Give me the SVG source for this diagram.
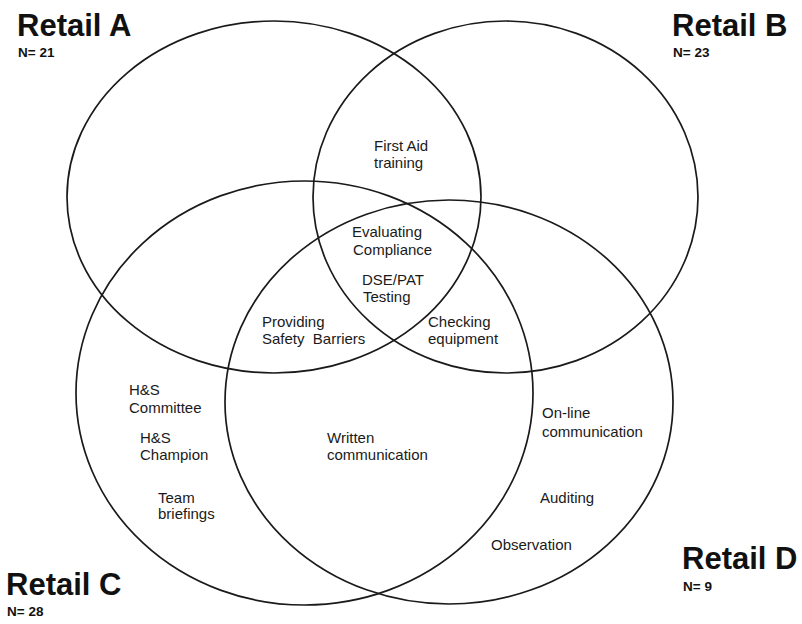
<svg xmlns="http://www.w3.org/2000/svg" width="802" height="624" viewBox="0 0 802 624">
<style>
.set{fill:none;stroke:#1a1a1a;stroke-width:1.7}
.title{font-family:"Liberation Sans",Arial,sans-serif;font-weight:bold;font-size:31px;fill:#111}
.n{font-family:"Liberation Sans",Arial,sans-serif;font-weight:bold;font-size:13.5px;fill:#111}
.lbl{font-family:"Liberation Sans",Arial,sans-serif;font-size:15px;fill:#1a1a1a;white-space:pre}
</style>
<rect width="802" height="624" fill="#fff"/>
<g id="connectors">
<ellipse id="set-a" class="set" cx="274" cy="197" rx="207" ry="176"/>
<ellipse id="set-b" class="set" cx="505.5" cy="197" rx="192.5" ry="176"/>
<ellipse id="set-c" class="set" cx="304.5" cy="393" rx="228.5" ry="212"/>
<ellipse id="set-d" class="set" cx="449" cy="402" rx="224" ry="202"/>
</g>
<g id="retail-a"><text class="title" x="17" y="36">Retail A</text><text class="n" x="18" y="57">N= 21</text></g>
<g id="retail-b"><text class="title" x="672" y="36">Retail B</text><text class="n" x="673" y="57">N= 23</text></g>
<g id="retail-c"><text class="title" x="6" y="595">Retail C</text><text class="n" x="7" y="616">N= 28</text></g>
<g id="retail-d"><text class="title" x="682" y="569">Retail D</text><text class="n" x="683" y="591">N= 9</text></g>
<g id="first-aid"><text class="lbl" x="374" y="151">First Aid</text><text class="lbl" x="374" y="168">training</text></g>
<g id="evaluating"><text class="lbl" x="352" y="237">Evaluating</text><text class="lbl" x="353" y="255">Compliance</text></g>
<g id="dse"><text class="lbl" x="362" y="285">DSE/PAT</text><text class="lbl" x="363" y="302">Testing</text></g>
<g id="providing"><text class="lbl" x="262" y="327">Providing</text><text class="lbl" x="262" y="344">Safety  Barriers</text></g>
<g id="checking"><text class="lbl" x="428" y="327">Checking</text><text class="lbl" x="428" y="344">equipment</text></g>
<g id="hs-committee"><text class="lbl" x="129" y="395">H&amp;S</text><text class="lbl" x="129" y="413">Committee</text></g>
<g id="hs-champion"><text class="lbl" x="140" y="443">H&amp;S</text><text class="lbl" x="140" y="460">Champion</text></g>
<g id="team"><text class="lbl" x="158" y="503">Team</text><text class="lbl" x="158" y="519">briefings</text></g>
<g id="written"><text class="lbl" x="327" y="443">Written</text><text class="lbl" x="327" y="460">communication</text></g>
<g id="online"><text class="lbl" x="542" y="418">On-line</text><text class="lbl" x="542" y="437">communication</text></g>
<g id="auditing"><text class="lbl" x="540" y="503">Auditing</text></g>
<g id="observation"><text class="lbl" x="491" y="550">Observation</text></g>
</svg>
